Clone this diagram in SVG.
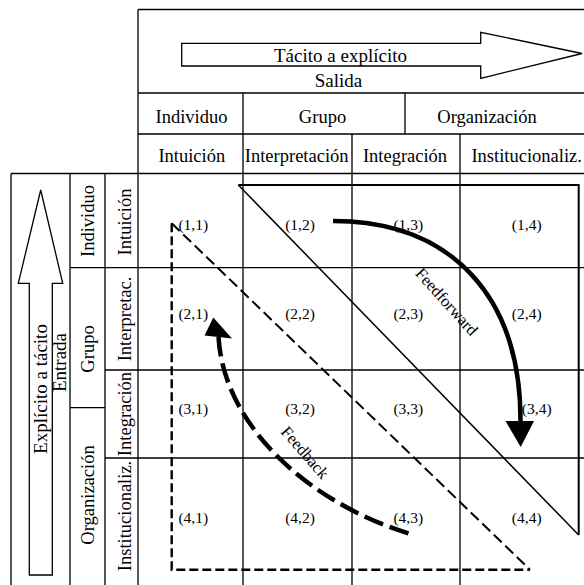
<svg xmlns="http://www.w3.org/2000/svg" width="584" height="585" viewBox="0 0 584 585">
<style>
text{font-family:"Liberation Serif","Times New Roman",serif;fill:#000}
.h{font-size:18.5px;text-anchor:middle}
.a{font-size:19px;text-anchor:middle}
.c{font-size:15.5px;text-anchor:middle}
.l{font-size:16.5px;text-anchor:middle}
.g{stroke:#000;stroke-width:1.3;fill:none}
.k{stroke:#000;fill:none}
</style>
<rect width="584" height="585" fill="#fff"/>
<g id="grid" class="g">
<path d="M138,9.5H584 M138,93H584 M138,134H584 M11,173.5H584 M70,267.7H584 M105,370H584 M105,458H584 M70,407.7H105 M138,9.5V585 M11,173.5V585 M70,173.5V585 M105,173.5V585 M243,93V585 M405,93V134 M352,134V585 M460,134V585"/>
</g>
<g id="arrow-salida">
<polygon class="g" points="181.7,43.3 480.7,43.3 480.7,32.3 582,53.5 480.7,78.3 480.7,66 181.7,66"/>
<text class="a" x="340.5" y="62">Tácito a explícito</text>
<text class="a" x="338.5" y="87">Salida</text>
</g>
<g id="arrow-entrada">
<polygon class="g" points="29.3,575 29.3,283.3 18.3,283.3 40.7,190 62.7,283.3 52.3,283.3 52.3,575"/>
<text class="a" transform="translate(47,389) rotate(-90)">Explícito a tácito</text>
<text class="a" transform="translate(66,362.5) rotate(-90)">Entrada</text>
</g>
<g id="top-headers">
<text class="h" x="191.5" y="122.5">Individuo</text>
<text class="h" x="322.5" y="122.5">Grupo</text>
<text class="h" x="487" y="122.5">Organización</text>
<text class="h" x="191.8" y="161.5">Intuición</text>
<text class="h" x="296.7" y="161.5">Interpretación</text>
<text class="h" x="405" y="161.5">Integración</text>
<text class="h" x="526.7" y="161.5">Institucionaliz.</text>
</g>
<g id="left-headers">
<text class="h" transform="translate(93.5,221) rotate(-90)">Individuo</text>
<text class="h" transform="translate(93.5,349) rotate(-90)">Grupo</text>
<text class="h" transform="translate(93.5,495) rotate(-90)">Organización</text>
<text class="h" transform="translate(130.5,222) rotate(-90)">Intuición</text>
<text class="h" transform="translate(130.5,319) rotate(-90)">Interpretac.</text>
<text class="h" transform="translate(130.5,414) rotate(-90)">Integración</text>
<text class="h" transform="translate(130.5,516) rotate(-90)">Institucionaliz.</text>
</g>
<g id="cells">
<text class="c" x="193.3" y="229.5">(1,1)</text>
<text class="c" x="300" y="229.5">(1,2)</text>
<text class="c" x="408.3" y="229.5">(1,3)</text>
<text class="c" x="526.7" y="229.5">(1,4)</text>
<text class="c" x="193.3" y="318.5">(2,1)</text>
<text class="c" x="300" y="318.5">(2,2)</text>
<text class="c" x="408.3" y="318.5">(2,3)</text>
<text class="c" x="526.7" y="318.5">(2,4)</text>
<text class="c" x="193.3" y="413.5">(3,1)</text>
<text class="c" x="300" y="413.5">(3,2)</text>
<text class="c" x="408.3" y="413.5">(3,3)</text>
<text class="c" x="536.7" y="413.5">(3,4)</text>
<text class="c" x="193.3" y="522.5">(4,1)</text>
<text class="c" x="300" y="522.5">(4,2)</text>
<text class="c" x="408.3" y="522.5">(4,3)</text>
<text class="c" x="526.7" y="522.5">(4,4)</text>
</g>
<g id="triangle-feedforward" class="k">
<path d="M238.3,185H578.7V535" stroke-width="2"/>
<path d="M238.3,185L578.7,535" stroke-width="1.5"/>
</g>
<g id="triangle-feedback" class="k">
<path d="M171.7,223.3V569.7H530" stroke-width="2.4" stroke-dasharray="9 4"/>
<path d="M171.7,223.3L530,569.7" stroke-width="2" stroke-dasharray="11 5"/>
</g>
<g id="connectors">
<path class="k" d="M333,221 C450,221 521,295 520.5,422" stroke-width="4.5"/>
<polygon points="505.5,421 534,421 520.7,447" fill="#000"/>
<path class="k" d="M408.5,533.3 C315,505 224,430 218.5,337" stroke-width="4.5" stroke-dasharray="20 7"/>
<polygon points="213.3,317.5 204.5,335.5 232,338.5" fill="#000"/>
<text class="l" transform="translate(446.7,301.7) rotate(48)" y="5.5">Feedforward</text>
<text class="l" transform="translate(305,452.5) rotate(49)" y="5.5">Feedback</text>
</g>
</svg>
